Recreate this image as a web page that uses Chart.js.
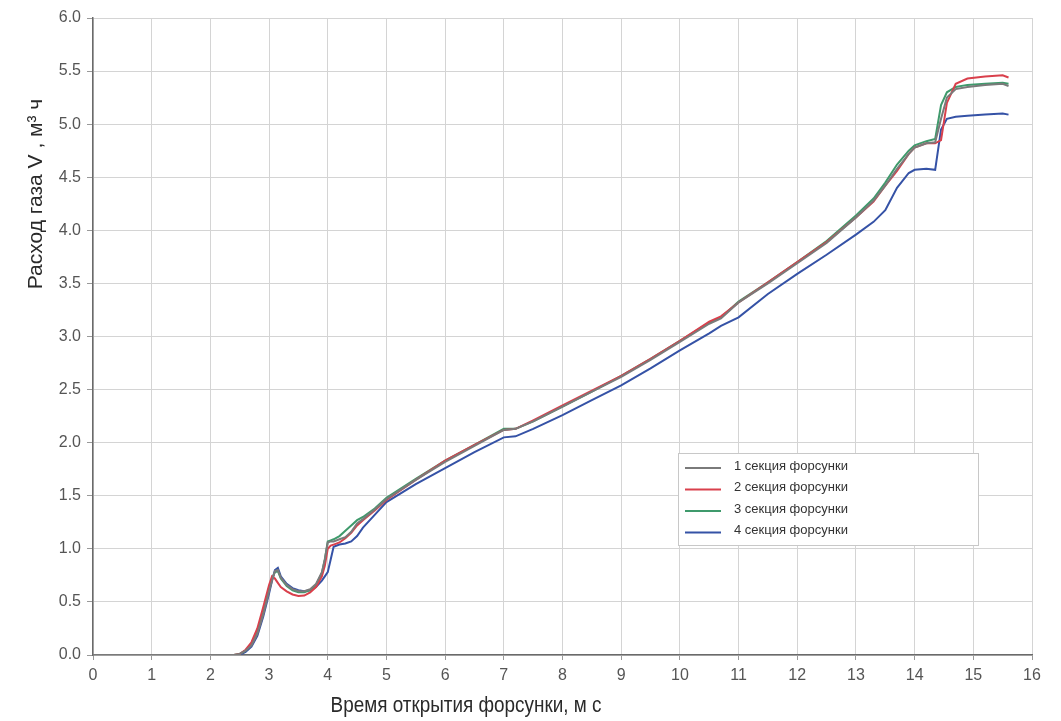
<!DOCTYPE html>
<html><head><meta charset="utf-8">
<script src="https://cdn.jsdelivr.net/npm/chart.js@4/dist/chart.umd.min.js"></script>
<style>html,body{margin:0;padding:0;background:#fff;}#wrap{width:1061px;height:721px;}</style>
</head><body><div id="wrap"><canvas id="c" width="1061" height="721"></canvas></div>
<script>
const xTime = [0,0.5,1,1.5,2,2.4,2.5,2.6,2.7,2.8, 2.9,3.0,3.05,3.1,3.15,3.2,3.3,3.4,3.5,3.6, 3.7,3.8,3.9,3.95,4.0,4.05,4.1,4.2,4.3,4.4, 4.5,4.6,4.8,5.0,5.5,6.0,6.5,7.0,7.2,7.5, 8.0,8.5,9.0,9.5,10.0,10.5,10.7,11.0,11.5,12.0, 12.5,13.0,13.3,13.5,13.7,13.9,14.0,14.2,14.35,14.45, 14.55,14.7,14.9,15.2,15.5,15.6];
const sec1 = [0,0,0,0,0,0,0.01,0.04,0.09,0.2, 0.38,0.6,0.7,0.79,0.8,0.73,0.66,0.62,0.6,0.6, 0.62,0.67,0.78,0.9,1.06,1.07,1.07,1.09,1.11,1.16, 1.24,1.28,1.37,1.47,1.65,1.82,1.97,2.12,2.13,2.2, 2.34,2.48,2.62,2.78,2.95,3.12,3.17,3.32,3.5,3.69, 3.88,4.12,4.28,4.42,4.58,4.72,4.78,4.82,4.83,5.05, 5.25,5.33,5.35,5.37,5.38,5.36];
const sec2 = [0,0,0,0,0,0,0.01,0.05,0.12,0.25, 0.45,0.66,0.74,0.72,0.68,0.64,0.6,0.57,0.555,0.56, 0.59,0.64,0.74,0.84,1.0,1.03,1.04,1.06,1.1,1.15, 1.22,1.27,1.36,1.46,1.65,1.83,1.98,2.12,2.13,2.21, 2.35,2.49,2.63,2.79,2.96,3.14,3.19,3.32,3.51,3.7, 3.89,4.12,4.27,4.42,4.56,4.72,4.78,4.82,4.82,4.85, 5.2,5.38,5.43,5.45,5.46,5.44];
const sec3 = [0,0,0,0,0,0,0.01,0.04,0.1,0.22, 0.4,0.62,0.72,0.78,0.79,0.72,0.65,0.61,0.59,0.59, 0.61,0.66,0.77,0.9,1.07,1.08,1.09,1.12,1.17,1.22, 1.27,1.3,1.38,1.48,1.66,1.83,1.98,2.13,2.13,2.2, 2.34,2.48,2.63,2.79,2.96,3.13,3.18,3.33,3.51,3.7, 3.9,4.14,4.3,4.45,4.62,4.75,4.8,4.84,4.86,5.18, 5.3,5.35,5.37,5.38,5.39,5.38];
const sec4 = [0,0,0,0,0,0,0,0.03,0.08,0.18, 0.36,0.58,0.7,0.8,0.82,0.74,0.67,0.63,0.61,0.6, 0.61,0.64,0.7,0.74,0.78,0.9,1.02,1.04,1.05,1.07, 1.12,1.2,1.32,1.44,1.61,1.76,1.91,2.05,2.06,2.13, 2.26,2.4,2.54,2.7,2.87,3.03,3.1,3.18,3.4,3.59, 3.77,3.96,4.08,4.19,4.4,4.54,4.57,4.58,4.57,4.95, 5.05,5.07,5.08,5.09,5.1,5.09];
const seriesNames = ['1 секция форсунки','2 секция форсунки','3 секция форсунки','4 секция форсунки'];
const seriesColors = ['#7a7a7a','#d9404c','#3f9a6c','#3552a6'];
const xTitle = 'Время открытия форсунки, м с';
const yTitle = 'Расход газа V , м³ ч';

const allSeries = [sec1, sec2, sec3, sec4];
const datasets = allSeries.map((s, i) => ({
  label: seriesNames[i],
  data: xTime.map((x, j) => ({x: x, y: s[j]})),
  borderColor: seriesColors[i],
  backgroundColor: seriesColors[i],
  borderWidth: 2,
  pointRadius: 0,
  tension: 0,
  fill: false
}));

const customText = {
  id: 'customText',
  afterDraw(chart) {
    const ctx = chart.ctx;
    ctx.save();
    ctx.fillStyle = '#2a2a2a';
    ctx.font = '21px "Liberation Sans", Arial, sans-serif';
    ctx.translate(36, 194);
    ctx.rotate(-Math.PI / 2);
    ctx.textAlign = 'center';
    ctx.textBaseline = 'middle';
    ctx.fillText(yTitle, 0, 0);
    ctx.restore();
    ctx.save();
    ctx.fillStyle = '#2a2a2a';
    ctx.font = '21px "Liberation Sans", Arial, sans-serif';
    ctx.textAlign = 'center';
    ctx.textBaseline = 'middle';
    ctx.translate(466, 706);
    ctx.scale(0.9, 1.05);
    ctx.fillText(xTitle, 0, 0);
    ctx.restore();
    ctx.save();
    const lx = 678, ly = 453, lw = 300, lh = 92;
    ctx.fillStyle = '#ffffff';
    ctx.fillRect(lx, ly, lw, lh);
    ctx.strokeStyle = '#c8c8c8';
    ctx.lineWidth = 1;
    ctx.strokeRect(lx + 0.5, ly + 0.5, lw, lh);
    ctx.font = '13px "Liberation Sans", Arial, sans-serif';
    ctx.textBaseline = 'middle';
    ctx.textAlign = 'left';
    chart.data.datasets.forEach((d, i) => {
      const y = ly + 13 + i * 21.5;
      ctx.strokeStyle = d.borderColor;
      ctx.lineWidth = 2;
      ctx.beginPath();
      ctx.moveTo(lx + 7, y + 2);
      ctx.lineTo(lx + 43, y + 2);
      ctx.stroke();
      ctx.fillStyle = '#333';
      ctx.fillText(d.label, lx + 56, y);
    });
    ctx.restore();
  }
};

new Chart(document.getElementById('c'), {
  type: 'line',
  data: { datasets: datasets },
  options: {
    responsive: false,
    animation: false,
    devicePixelRatio: 1,
    layout: { padding: { left: 0, right: 29, top: 18, bottom: 0 } },
    plugins: { legend: { display: false }, tooltip: { enabled: false } },
    scales: {
      x: {
        type: 'linear', min: 0, max: 16,
        ticks: { stepSize: 1, color: '#555', font: { size: 16, family: '"Liberation Sans", Arial' }, padding: 6, maxRotation: 0 },
        grid: { color: '#d4d4d4', lineWidth: 1, tickLength: 5, tickColor: '#999' },
        border: { color: '#6a6a6a', width: 1.5 },
        afterFit(s) { s.height = 66; }
      },
      y: {
        type: 'linear', min: 0, max: 6,
        ticks: { stepSize: 0.5, color: '#555', font: { size: 16, family: '"Liberation Sans", Arial' }, padding: 6, callback: v => Number(v).toFixed(1) },
        grid: { color: '#d4d4d4', lineWidth: 1, tickLength: 6, tickColor: '#999' },
        border: { color: '#6a6a6a', width: 1.5 },
        afterFit(s) { s.width = 93; }
      }
    }
  },
  plugins: [customText]
});
</script>
</body></html>
